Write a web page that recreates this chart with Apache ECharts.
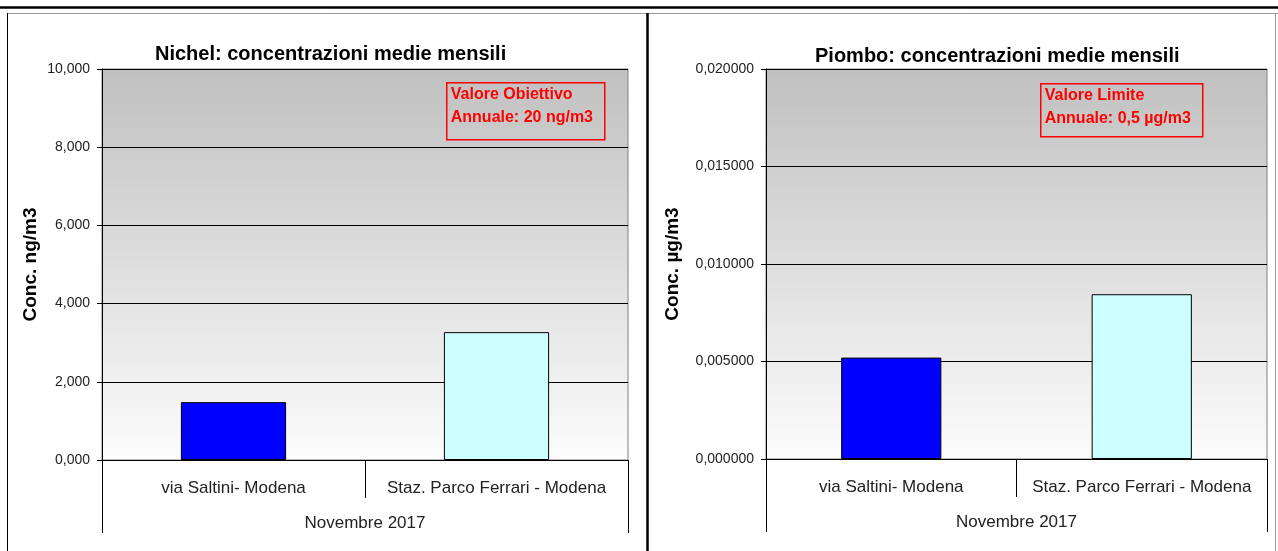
<!DOCTYPE html>
<html>
<head>
<meta charset="utf-8">
<script src="https://cdn.jsdelivr.net/npm/echarts@6/dist/echarts.min.js"></script>
<style>
html, body { margin: 0; padding: 0; background: #fff; }
#main { width: 1278px; height: 551px; }
</style>
</head>
<body>
<div id="main"></div>
<script>
var dom = document.getElementById("main");
var myChart = echarts.init(dom);
option = null;

var stations = ['via Saltini- Modena', 'Staz. Parco Ferrari - Modena'];
var period = ['Novembre 2017'];
var nichelValues = [1.48, 3.27];       // ng/m3
var piomboValues = [0.0052, 0.00845];  // µg/m3
var barColors = ['#0000ff', '#ccffff'];

var FONT = 'Liberation Sans, Arial, sans-serif';

function plotBg() {
    return new echarts.graphic.LinearGradient(0, 0, 0, 1, [
        { offset: 0, color: '#c0c0c0' },
        { offset: 1, color: '#fcfcfc' }
    ]);
}

function barData(values) {
    return values.map(function (v, i) {
        return { value: v, itemStyle: { color: barColors[i] } };
    });
}

function catAxes(gridIndex) {
    return [{
        type: 'category',
        gridIndex: gridIndex,
        data: stations,
        position: 'bottom',
        axisLine: { lineStyle: { color: '#000', width: 1 } },
        axisTick: { show: true, length: 38, interval: 0, lineStyle: { color: '#000' } },
        axisLabel: { interval: 0, margin: 20, color: '#222', fontSize: 17, fontFamily: FONT }
    }, {
        type: 'category',
        gridIndex: gridIndex,
        data: period,
        position: 'bottom',
        axisLine: { show: false },
        axisTick: { show: true, length: 73, lineStyle: { color: '#000' } },
        axisLabel: { margin: 55, color: '#222', fontSize: 17, fontFamily: FONT }
    }];
}

function valAxis(gridIndex, max, step, dec, name, gap) {
    return {
        type: 'value',
        gridIndex: gridIndex,
        min: 0,
        max: max,
        interval: step,
        name: name,
        nameLocation: 'middle',
        nameGap: gap,
        nameTextStyle: { fontWeight: 'bold', fontSize: 19, color: '#000', fontFamily: FONT },
        axisLine: { show: true, lineStyle: { color: '#000' } },
        axisTick: { show: true, inside: false, length: 5, lineStyle: { color: '#000' } },
        axisLabel: {
            margin: 12, color: '#222', fontSize: 14, fontFamily: FONT,
            formatter: function (v) { return v.toFixed(dec).replace('.', ','); }
        },
        splitLine: { show: true, lineStyle: { color: '#000', width: 1 } }
    };
}

function noteBox(x, y, w, h, lines) {
    return {
        type: 'group',
        left: x,
        top: y,
        z: 100,
        children: [{
            type: 'rect',
            shape: { x: 0, y: 0, width: w, height: h },
            style: { fill: 'transparent', stroke: '#ff0000', lineWidth: 1.5 }
        }, {
            type: 'text',
            x: 4, y: 0,
            style: {
                text: lines.join('\n'),
                fill: '#ff0000',
                font: 'bold 16px ' + FONT,
                lineHeight: 23
            }
        }]
    };
}

option = {
    animation: false,
    backgroundColor: '#fff',
    title: [{
        text: 'Nichel: concentrazioni medie mensili',
        left: 150, top: 39,
        textStyle: { fontSize: 20, fontWeight: 'bold', color: '#000', fontFamily: FONT }
    }, {
        text: 'Piombo: concentrazioni medie mensili',
        left: 810, top: 41,
        textStyle: { fontSize: 20, fontWeight: 'bold', color: '#000', fontFamily: FONT }
    }],
    grid: [{
        left: 102, top: 69, width: 526, height: 391,
        show: true, backgroundColor: plotBg(), borderColor: '#808080', borderWidth: 1
    }, {
        left: 766, top: 69, width: 501, height: 390,
        show: true, backgroundColor: plotBg(), borderColor: '#808080', borderWidth: 1
    }],
    xAxis: catAxes(0).concat(catAxes(1)),
    yAxis: [
        valAxis(0, 10, 2, 3, 'Conc. ng/m3', 62),
        valAxis(1, 0.02, 0.005, 6, 'Conc. \u00b5g/m3', 84)
    ],
    series: [{
        type: 'bar',
        xAxisIndex: 0,
        yAxisIndex: 0,
        barWidth: '40%',
        itemStyle: { borderColor: '#000', borderWidth: 1 },
        data: barData(nichelValues)
    }, {
        type: 'bar',
        xAxisIndex: 2,
        yAxisIndex: 1,
        barWidth: '40%',
        itemStyle: { borderColor: '#000', borderWidth: 1 },
        data: barData(piomboValues)
    }],
    graphic: [
        // page frame
        { type: 'line', shape: { x1: 0, y1: 7.5, x2: 1278, y2: 7.5 }, style: { stroke: '#000', lineWidth: 2.5 } },
        { type: 'line', shape: { x1: 7, y1: 13.5, x2: 1278, y2: 13.5 }, style: { stroke: '#999', lineWidth: 1 } },
        { type: 'line', shape: { x1: 7.5, y1: 13, x2: 7.5, y2: 551 }, style: { stroke: '#000', lineWidth: 1 } },
        { type: 'line', shape: { x1: 647.5, y1: 13, x2: 647.5, y2: 551 }, style: { stroke: '#000', lineWidth: 2.5 } },
        { type: 'line', shape: { x1: 1275.5, y1: 13, x2: 1275.5, y2: 551 }, style: { stroke: '#999', lineWidth: 1 } },
        noteBox(446, 82, 158, 57, ['Valore Obiettivo', 'Annuale: 20 ng/m3']),
        noteBox(1040, 83, 162, 53, ['Valore Limite', 'Annuale: 0,5 \u00b5g/m3'])
    ]
};

if (option && typeof option === "object") {
    myChart.setOption(option, true);
}
</script>
</body>
</html>
